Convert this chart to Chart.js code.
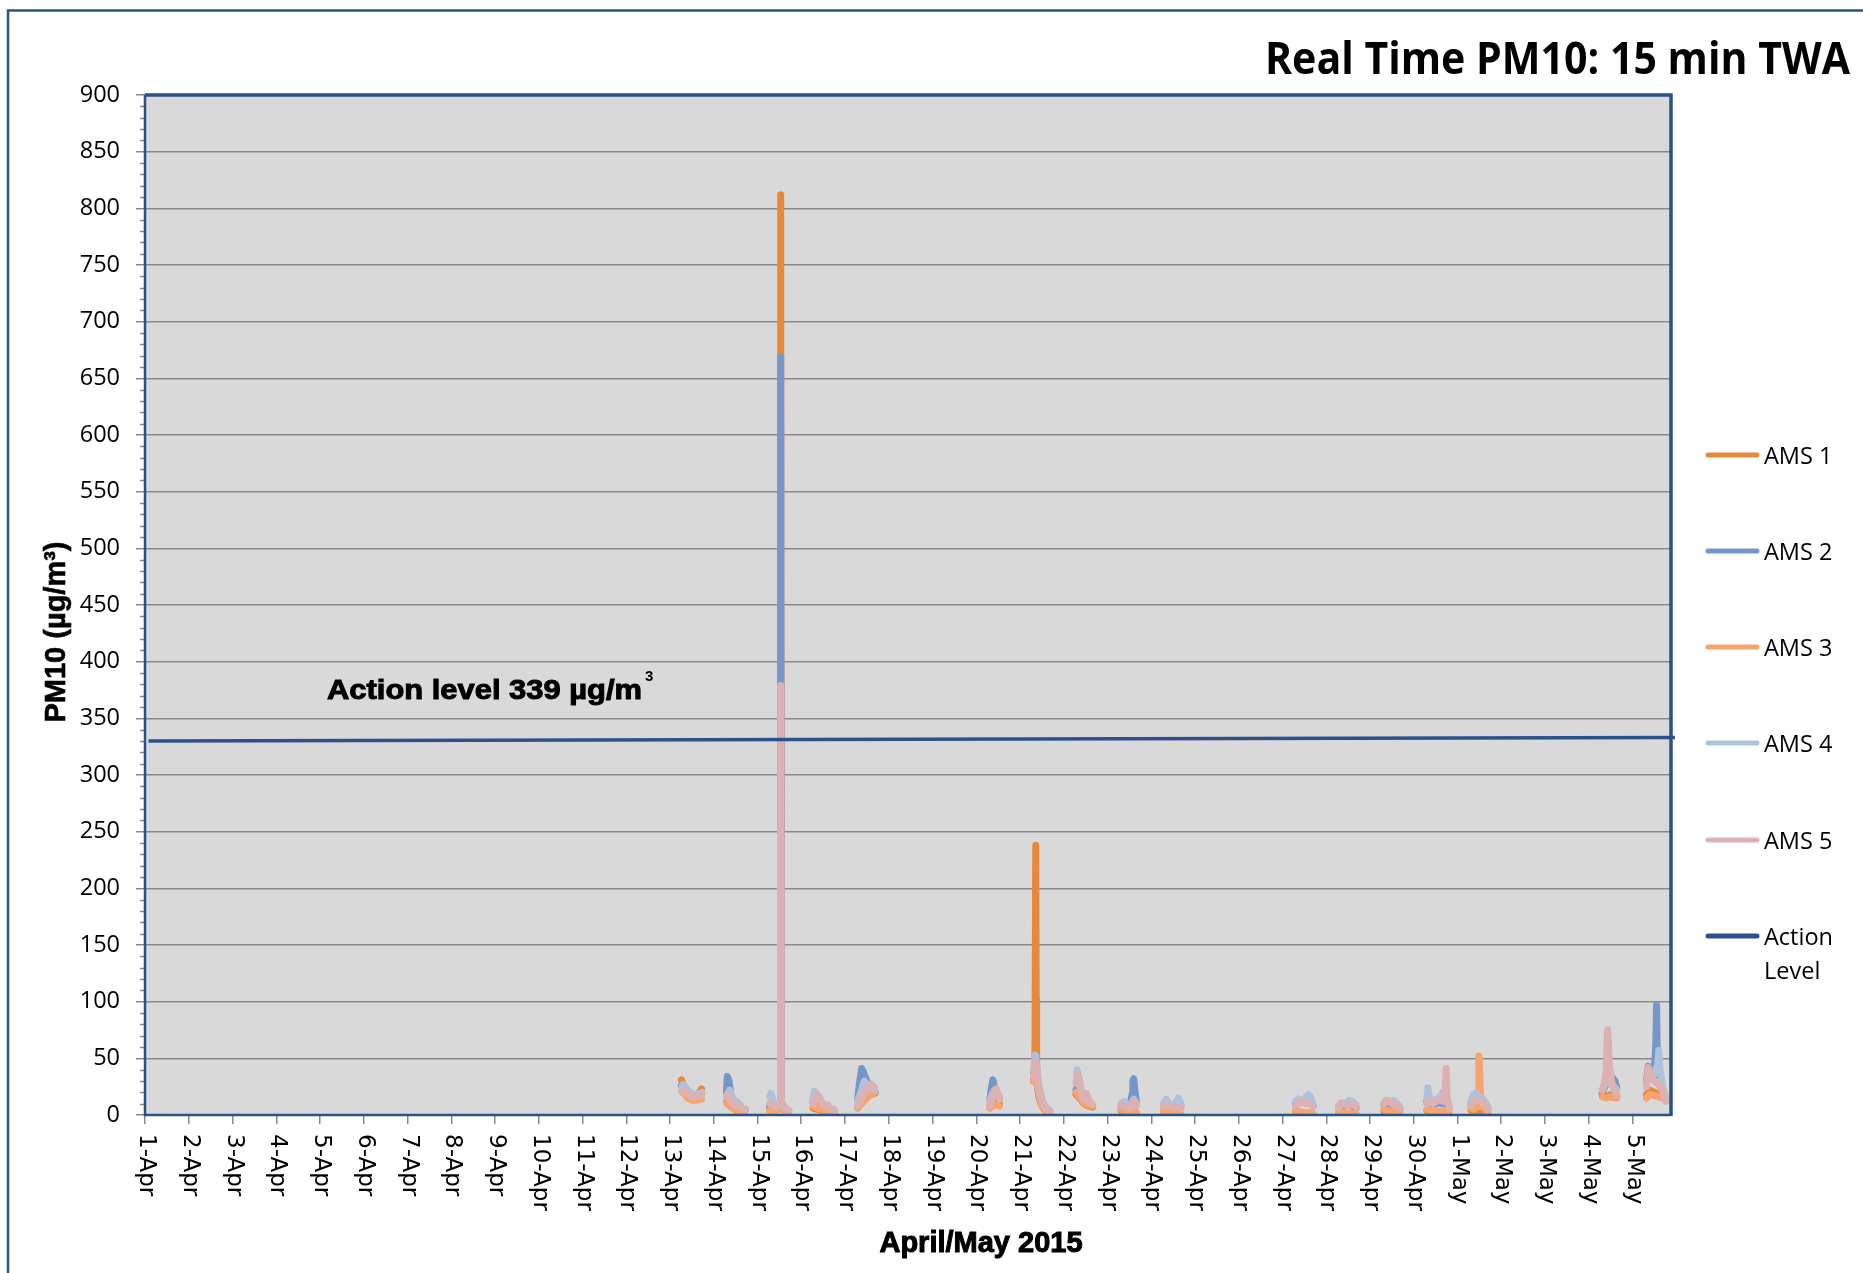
<!DOCTYPE html>
<html><head><meta charset="utf-8">
<script src="https://cdn.jsdelivr.net/npm/chart.js@4.4.1/dist/chart.umd.min.js"></script>
<style>html,body{margin:0;padding:0;background:#fff;}canvas{display:block}</style>
</head><body>
<canvas id="c" width="1863" height="1273" style="width:1863px;height:1273px"></canvas>
<script>
// ---------- DATA ----------
// x = days since 1-Apr-2015 00:00, y = PM10 (µg/m3)
const dayLabels = ['1-Apr','2-Apr','3-Apr','4-Apr','5-Apr','6-Apr','7-Apr','8-Apr','9-Apr','10-Apr',
  '11-Apr','12-Apr','13-Apr','14-Apr','15-Apr','16-Apr','17-Apr','18-Apr','19-Apr','20-Apr',
  '21-Apr','22-Apr','23-Apr','24-Apr','25-Apr','26-Apr','27-Apr','28-Apr','29-Apr','30-Apr',
  '1-May','2-May','3-May','4-May','5-May'];

const ams1 = [
  [12.26,31],[12.33,24],[12.40,19],[12.48,16],[12.56,15],[12.64,18],[12.72,23],
  [13.30,12],[13.38,10],[13.46,6],[13.54,3],[13.62,3],[13.70,2],
  [14.28,6],[14.36,4],[14.44,4],[14.52,8],[14.53,812],[14.54,10],[14.62,4],[14.70,2],
  [15.27,6],[15.36,5],[15.46,4],[15.56,3],[15.66,2],[15.75,2],
  [16.29,7],[16.38,12],[16.48,16],[16.58,18],[16.68,19],
  [19.31,8],[19.38,10],[19.46,11],[19.53,10],
  [20.31,38],[20.34,36],[20.36,238],[20.37,102],[20.38,45],[20.42,20],[20.48,10],[20.55,5],[20.62,3],[20.68,2],
  [21.28,18],[21.36,15],[21.46,10],[21.56,8],[21.66,7],
  [22.31,4],[22.40,3],[22.50,2],[22.58,3],[22.66,1],
  [23.28,3],[23.38,2],[23.48,1],[23.58,1],[23.68,0],
  [26.30,3],[26.40,2],[26.50,1],[26.60,1],[26.70,0],
  [27.28,2],[27.38,1],[27.48,1],[27.58,0],[27.68,0],
  [28.32,3],[28.40,2],[28.50,2],[28.60,1],[28.68,1],
  [29.30,4],[29.40,3],[29.50,3],[29.60,2],[29.70,3],[29.80,2],
  [30.31,4],[30.38,3],[30.46,2],[30.54,2],[30.62,1],[30.70,0],
  [33.31,18],[33.40,16],[33.50,18],[33.58,17],[33.64,16],
  [34.32,18],[34.40,22],[34.50,20],[34.60,18],[34.70,16],[34.78,14]
];
const ams2 = [
  [12.26,26],[12.35,22],[12.45,18],[12.55,16],[12.65,17],[12.72,18],
  [13.29,20],[13.31,34],[13.35,30],[13.40,15],[13.48,8],[13.56,6],[13.65,5],[13.72,4],
  [14.28,8],[14.36,5],[14.44,5],[14.52,9],[14.53,669],[14.54,9],[14.62,5],[14.70,3],
  [15.27,12],[15.34,16],[15.42,12],[15.52,8],[15.62,6],[15.72,4],
  [16.29,14],[16.33,28],[16.38,41],[16.42,38],[16.48,32],[16.55,26],[16.62,22],[16.69,20],
  [19.31,14],[19.35,25],[19.38,31],[19.42,24],[19.48,18],[19.53,15],
  [20.31,30],[20.35,44],[20.38,30],[20.44,15],[20.52,8],[20.60,4],[20.68,3],
  [21.28,22],[21.32,26],[21.40,16],[21.50,12],[21.60,9],[21.66,8],
  [22.31,6],[22.40,5],[22.50,6],[22.56,18],[22.58,30],[22.60,32],[22.63,20],[22.66,12],
  [23.28,8],[23.36,10],[23.46,7],[23.56,9],[23.64,12],[23.68,8],
  [26.30,10],[26.40,11],[26.50,12],[26.60,13],[26.70,8],
  [27.28,6],[27.38,8],[27.48,9],[27.58,8],[27.68,6],
  [28.32,9],[28.40,10],[28.50,9],[28.60,7],[28.68,5],
  [29.30,12],[29.38,10],[29.46,9],[29.56,11],[29.64,10],[29.72,12],[29.80,6],
  [30.31,10],[30.38,14],[30.46,12],[30.54,10],[30.62,8],[30.70,5],
  [33.31,20],[33.38,26],[33.46,30],[33.54,33],[33.60,30],[33.64,24],
  [34.32,30],[34.36,43],[34.42,38],[34.50,40],[34.53,60],[34.55,97],[34.57,40],[34.64,25],[34.72,18],[34.78,14]
];
const ams3 = [
  [12.27,22],[12.40,15],[12.50,13],[12.60,13],[12.72,14],
  [13.30,10],[13.40,7],[13.50,4],[13.60,2],[13.70,2],
  [14.28,4],[14.40,3],[14.52,6],[14.60,4],[14.70,2],
  [15.27,8],[15.36,6],[15.46,5],[15.56,4],[15.66,3],[15.75,3],
  [16.29,6],[16.38,10],[16.48,14],[16.58,18],[16.68,20],
  [19.31,6],[19.38,8],[19.46,9],[19.53,8],
  [20.31,30],[20.36,34],[20.40,25],[20.48,10],[20.58,4],[20.68,2],
  [21.28,20],[21.36,16],[21.46,11],[21.56,9],[21.66,8],
  [22.31,5],[22.40,4],[22.50,3],[22.60,4],[22.66,2],
  [23.28,4],[23.38,3],[23.48,2],[23.58,2],[23.68,1],
  [26.30,4],[26.40,3],[26.50,2],[26.60,2],[26.70,1],
  [27.28,3],[27.38,2],[27.48,2],[27.58,1],[27.68,1],
  [28.32,5],[28.40,4],[28.50,3],[28.60,3],[28.68,2],
  [29.30,5],[29.40,4],[29.50,4],[29.60,3],[29.70,4],[29.80,3],
  [30.31,6],[30.38,5],[30.44,8],[30.47,20],[30.49,52],[30.51,35],[30.53,12],[30.60,6],[30.68,3],
  [33.31,16],[33.40,15],[33.50,16],[33.58,15],[33.64,15],
  [34.32,15],[34.40,18],[34.50,17],[34.60,16],[34.70,15],[34.78,13]
];
const ams4 = [
  [12.26,24],[12.30,27],[12.38,23],[12.48,19],[12.58,18],[12.68,19],[12.73,20],
  [13.30,16],[13.36,22],[13.44,14],[13.52,12],[13.58,10],[13.66,6],[13.72,5],
  [14.28,16],[14.31,19],[14.36,12],[14.44,8],[14.52,10],[14.53,250],[14.54,10],[14.62,6],[14.70,4],
  [15.27,14],[15.30,21],[15.36,18],[15.44,14],[15.52,8],[15.60,7],[15.70,5],[15.75,5],
  [16.29,12],[16.36,20],[16.44,30],[16.52,26],[16.60,24],[16.68,22],
  [19.31,12],[19.36,18],[19.42,22],[19.48,20],[19.53,16],
  [20.31,40],[20.35,53],[20.38,44],[20.44,24],[20.52,12],[20.60,6],[20.68,4],
  [21.28,30],[21.30,40],[21.34,34],[21.40,22],[21.48,16],[21.56,12],[21.64,10],
  [22.31,10],[22.38,12],[22.46,8],[22.54,10],[22.60,14],[22.66,10],
  [23.28,10],[23.34,14],[23.40,10],[23.48,8],[23.56,11],[23.62,15],[23.68,10],
  [26.30,12],[26.36,14],[26.44,12],[26.52,15],[26.60,18],[26.66,14],[26.70,10],
  [27.28,8],[27.36,11],[27.44,10],[27.52,13],[27.60,12],[27.68,9],
  [28.32,11],[28.38,13],[28.46,12],[28.54,13],[28.62,10],[28.68,7],
  [29.30,14],[29.32,24],[29.36,16],[29.44,12],[29.52,14],[29.60,16],[29.66,20],[29.72,18],[29.80,10],
  [30.31,12],[30.36,18],[30.42,19],[30.50,16],[30.58,14],[30.66,10],[30.71,6],
  [33.31,22],[33.40,30],[33.48,28],[33.56,26],[33.64,22],
  [34.32,28],[34.40,34],[34.50,36],[34.58,45],[34.60,57],[34.63,40],[34.70,22],[34.78,14]
];
const ams5 = [
  [12.27,20],[12.33,22],[12.42,18],[12.52,16],[12.62,17],[12.72,17],
  [13.30,18],[13.34,16],[13.40,12],[13.48,8],[13.56,9],[13.64,6],[13.72,5],
  [14.28,10],[14.36,8],[14.44,7],[14.52,10],[14.53,379],[14.54,12],[14.60,8],[14.66,5],[14.72,4],
  [15.27,10],[15.32,16],[15.38,17],[15.44,12],[15.52,8],[15.60,9],[15.68,5],[15.75,4],
  [16.29,8],[16.36,14],[16.44,20],[16.52,24],[16.60,27],[16.68,24],
  [19.31,8],[19.36,14],[19.42,20],[19.46,23],[19.50,18],[19.53,14],
  [20.31,34],[20.35,47],[20.38,40],[20.44,22],[20.52,10],[20.60,5],[20.68,3],
  [21.28,28],[21.30,36],[21.34,30],[21.40,20],[21.46,14],[21.52,19],[21.58,12],[21.64,10],
  [22.31,8],[22.38,9],[22.46,6],[22.54,7],[22.60,12],[22.66,8],
  [23.28,8],[23.36,9],[23.44,7],[23.52,6],[23.60,8],[23.68,6],
  [26.30,8],[26.36,10],[26.44,12],[26.52,10],[26.60,11],[26.70,7],
  [27.28,6],[27.36,10],[27.44,9],[27.52,8],[27.60,10],[27.68,7],
  [28.32,10],[28.38,13],[28.46,11],[28.54,9],[28.62,8],[28.68,6],
  [29.30,10],[29.36,12],[29.44,10],[29.52,12],[29.60,14],[29.68,12],[29.72,20],[29.74,41],[29.76,16],[29.82,6],
  [30.31,8],[30.38,12],[30.46,13],[30.54,12],[30.62,9],[30.70,5],
  [33.31,22],[33.36,28],[33.40,40],[33.43,75],[33.45,64],[33.47,45],[33.52,30],[33.58,22],[33.64,18],
  [34.32,25],[34.36,42],[34.42,35],[34.50,30],[34.58,28],[34.64,24],[34.70,20],[34.76,12]
];
const actionLevel = [[0.08,330],[34.97,333]];

const seriesNames = ['AMS 1','AMS 2','AMS 3','AMS 4','AMS 5'];
const actionName = 'Action Level';

// ---------- STYLE ----------
const seriesColors = ['#E8883A','#7597C8','#F6A46E','#B0C1DC','#DDB1B2'];
const actionColor = '#2C5089';
const frameColor = '#2A5287';

function toXY(pairs){
  const out=[]; let prev=null;
  for(const [t,v] of pairs){
    if(prev!==null && t-prev>0.3) out.push({x:(t+prev)/2,y:null});
    out.push({x:t,y:v}); prev=t;
  }
  return out;
}
const seriesData=[ams1,ams2,ams3,ams4,ams5];
const datasets = seriesData.map((d,i)=>({
  label:seriesNames[i], data:toXY(d), borderColor:seriesColors[i], backgroundColor:seriesColors[i],
  borderWidth:7, pointRadius:0, borderCapStyle:'round', borderJoinStyle:'round',
  spanGaps:false, tension:0, order:5-i, fill:false
}));
datasets.push({
  label:actionName, data:actionLevel.map(([t,v])=>({x:t,y:v})), borderColor:actionColor,
  borderWidth:3.5, pointRadius:0, order:0, fill:false, clip:{left:5,right:10,top:0,bottom:0}
});

function heavyText(ctx, s, x, y, w){ ctx.fillText(s,x,y); ctx.lineWidth=w; ctx.strokeText(s,x,y); }

const deco = {
  id:'deco',
  beforeDraw(chart){
    const {ctx, chartArea:a} = chart;
    ctx.save();
    ctx.fillStyle='#fff'; ctx.fillRect(0,0,chart.width,chart.height);
    ctx.fillStyle='#D9D9D9'; ctx.fillRect(a.left,a.top,a.right-a.left,a.bottom-a.top);
    ctx.strokeStyle=frameColor; ctx.lineWidth=2.5;
    ctx.beginPath(); ctx.moveTo(8,chart.height+5); ctx.lineTo(8,10.5); ctx.lineTo(chart.width+5,10.5); ctx.stroke();
    ctx.restore();
  },
  afterDraw(chart){
    const {ctx, chartArea:a, scales:{x,y}} = chart;
    ctx.save();
    // minor y ticks
    ctx.strokeStyle='#888'; ctx.lineWidth=1.5;
    for(let v=10; v<900; v+=10){
      if(v%50===0) continue;
      const py=Math.round(y.getPixelForValue(v))+0.5;
      ctx.beginPath(); ctx.moveTo(a.left-5,py); ctx.lineTo(a.left,py); ctx.stroke();
    }
    // plot frame
    ctx.strokeStyle=frameColor;
    ctx.lineWidth=2.5;
    ctx.beginPath(); ctx.moveTo(a.left,a.top); ctx.lineTo(a.left,a.bottom); ctx.lineTo(a.right,a.bottom); ctx.stroke();
    ctx.lineWidth=3.5;
    ctx.beginPath(); ctx.moveTo(a.left,a.top); ctx.lineTo(a.right,a.top); ctx.lineTo(a.right,a.bottom+1); ctx.stroke();
    // x tick labels (rotated 270°, reading top-to-bottom)
    ctx.fillStyle='#000'; ctx.strokeStyle='#000'; ctx.font='23px "DejaVu Sans"';
    ctx.textAlign='left'; ctx.textBaseline='middle';
    dayLabels.forEach((lab,i)=>{
      const px=x.getPixelForValue(i);
      ctx.save(); ctx.translate(px+1, a.bottom+19); ctx.rotate(Math.PI/2);
      ctx.fillText(lab,0,0); ctx.restore();
    });
    // title
    const title='Real Time PM10: 15 min TWA';
    ctx.font='bold 44px "Open Sans"'; ctx.textBaseline='alphabetic';
    const tw=ctx.measureText(title).width; const sx=Math.min(1,585/tw);
    ctx.save(); ctx.translate(1850,74); ctx.scale(sx,1); ctx.textAlign='right'; ctx.fillText(title,0,0); ctx.restore();
    // y axis title
    ctx.save(); ctx.translate(65,632); ctx.rotate(-Math.PI/2);
    ctx.font='bold 29px "Liberation Sans"'; ctx.textAlign='center'; ctx.textBaseline='alphabetic';
    heavyText(ctx,'PM10 (µg/m³)',0,0,0.6); ctx.restore();
    // x axis title
    ctx.font='bold 29px "Liberation Sans"'; ctx.textAlign='center'; ctx.textBaseline='alphabetic';
    heavyText(ctx,'April/May 2015',981,1252,1);
    // action level label
    ctx.textAlign='left';
    ctx.font='bold 28px "Liberation Sans"';
    const lab='Action level 339 µg/m';
    const lw0=ctx.measureText(lab).width; const lsx=315/lw0;
    ctx.save(); ctx.translate(327,699); ctx.scale(lsx,1); heavyText(ctx,lab,0,0,1); ctx.restore();
    ctx.font='bold 15px "Liberation Sans"';
    ctx.fillText('3',327+315+3,681);
    // legend
    const items=seriesNames.map((n,i)=>({t:[n],c:seriesColors[i]})).concat([{t:['Action','Level'],c:actionColor}]);
    const ys=[455,551,647,743,840,936];
    ctx.font='23.5px "Open Sans"'; ctx.textBaseline='middle'; ctx.textAlign='left';
    items.forEach((it,i)=>{
      const yy=ys[i];
      ctx.strokeStyle=it.c; ctx.lineWidth=5; ctx.lineCap='round';
      ctx.beginPath(); ctx.moveTo(1708,yy); ctx.lineTo(1757,yy); ctx.stroke();
      ctx.fillStyle='#000';
      it.t.forEach((s,k)=>ctx.fillText(s,1764,yy+2+k*34));
    });
    ctx.restore();
  }
};

new Chart(document.getElementById('c'), {
  type:'line',
  data:{datasets},
  options:{
    responsive:false, animation:false, devicePixelRatio:1,
    layout:{padding:{left:0,top:95,right:192,bottom:0}},
    plugins:{legend:{display:false}, tooltip:{enabled:false}, title:{display:false}},
    scales:{
      x:{type:'linear', min:0, max:34.88,
        afterBuildTicks:(s)=>{ s.ticks=dayLabels.map((_,i)=>({value:i})); },
        afterFit:(s)=>{ s.height=158; },
        ticks:{display:false},
        grid:{color:'rgba(0,0,0,0)', drawOnChartArea:false, tickColor:'#888', tickLength:9, lineWidth:1.5},
        border:{display:false}
      },
      y:{min:0, max:900,
        ticks:{stepSize:50, color:'#000', font:{family:'"Open Sans"', size:23.5}, padding:16},
        afterFit:(s)=>{ s.width=145; },
        grid:{color:'#8A8A8A', lineWidth:1.5, tickColor:'#888', tickLength:9},
        border:{display:false}
      }
    }
  },
  plugins:[deco]
});
</script>
</body></html>
